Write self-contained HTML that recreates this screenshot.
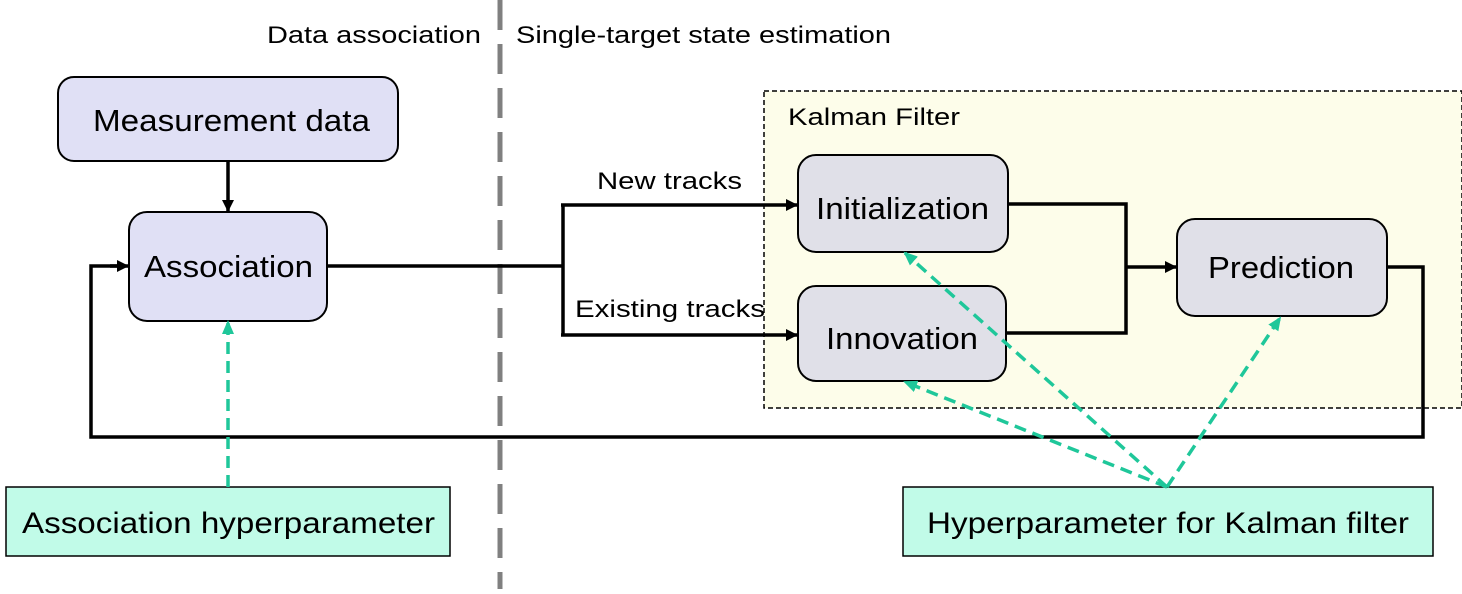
<!DOCTYPE html>
<html><head><style>
body{margin:0;width:1462px;height:589px;background:#fff;overflow:hidden;font-family:"Liberation Sans",sans-serif;}
</style></head><body>
<svg width="1462" height="589" viewBox="0 0 1462 589" xmlns="http://www.w3.org/2000/svg" font-family="Liberation Sans, sans-serif">
<defs>
<marker id="a" markerWidth="12" markerHeight="12" refX="11" refY="6" orient="auto" markerUnits="userSpaceOnUse"><path d="M0,0 L12,6 L0,12 z" fill="#000"/></marker>
<marker id="g" markerWidth="14" markerHeight="12" refX="12" refY="6" orient="auto" markerUnits="userSpaceOnUse"><path d="M0,0 L14,6 L0,12 z" fill="#1fc79a"/></marker>
</defs>
<rect x="764" y="91" width="698" height="317" fill="#fdfdea" stroke="#000" stroke-width="1.5" stroke-dasharray="5,3"/>
<text x="788" y="125" font-size="24" textLength="172" lengthAdjust="spacingAndGlyphs">Kalman Filter</text>
<line x1="500" y1="0" x2="500" y2="589" stroke="#808080" stroke-width="5" stroke-dasharray="30,14"/>
<text x="267" y="43" font-size="24" textLength="214" lengthAdjust="spacingAndGlyphs">Data association</text>
<text x="516" y="43" font-size="24" textLength="375" lengthAdjust="spacingAndGlyphs">Single-target state estimation</text>
<g fill="none" stroke="#000" stroke-width="3.5">
<line x1="228" y1="161" x2="228" y2="211" marker-end="url(#a)"/>
<polyline points="327,266 563,266"/>
<polyline points="563,205 563,335"/>
<line x1="561" y1="205" x2="797" y2="205" marker-end="url(#a)"/>
<line x1="561" y1="335" x2="797" y2="335" marker-end="url(#a)"/>
<polyline points="1008,204 1126,204 1126,333 1006,333"/>
<line x1="1126" y1="267" x2="1176" y2="267" marker-end="url(#a)"/>
<polyline points="1387,267 1423,267 1423,437 91,437 91,266 120,266"/>
<line x1="110" y1="266" x2="128" y2="266" marker-end="url(#a)"/>
</g>
<rect x="58" y="77" width="340" height="84" rx="16" fill="#e0e0f5" stroke="#000" stroke-width="2"/>
<text x="93" y="131" font-size="31" textLength="277" lengthAdjust="spacingAndGlyphs">Measurement data</text>
<rect x="129" y="212" width="198" height="109" rx="18" fill="#e0e0f5" stroke="#000" stroke-width="2"/>
<text x="144" y="277" font-size="31" textLength="169" lengthAdjust="spacingAndGlyphs">Association</text>
<rect x="798" y="155" width="210" height="97" rx="18" fill="#e0e0e8" stroke="#000" stroke-width="2"/>
<text x="816" y="219" font-size="31" textLength="173" lengthAdjust="spacingAndGlyphs">Initialization</text>
<rect x="798" y="286" width="208" height="95" rx="18" fill="#e0e0e8" stroke="#000" stroke-width="2"/>
<text x="826" y="349" font-size="31" textLength="152" lengthAdjust="spacingAndGlyphs">Innovation</text>
<rect x="1177" y="219" width="210" height="97" rx="18" fill="#e0e0e8" stroke="#000" stroke-width="2"/>
<text x="1208" y="278" font-size="31" textLength="146" lengthAdjust="spacingAndGlyphs">Prediction</text>
<text x="597" y="189" font-size="24" textLength="145" lengthAdjust="spacingAndGlyphs">New tracks</text>
<text x="575" y="317" font-size="24" textLength="190" lengthAdjust="spacingAndGlyphs">Existing tracks</text>
<rect x="6" y="487" width="444" height="69" fill="#c1fbe8" stroke="#000" stroke-width="1.5"/>
<text x="22" y="533" font-size="30" textLength="413" lengthAdjust="spacingAndGlyphs">Association hyperparameter</text>
<rect x="903" y="487" width="530" height="69" fill="#c1fbe8" stroke="#000" stroke-width="1.5"/>
<text x="927" y="533" font-size="30" textLength="482" lengthAdjust="spacingAndGlyphs">Hyperparameter for Kalman filter</text>
<g stroke="#1fc79a" stroke-width="3.5" stroke-dasharray="12,7" fill="none">
<line x1="228" y1="487" x2="228" y2="322" marker-end="url(#g)"/>
<line x1="1167" y1="487" x2="905" y2="253" marker-end="url(#g)"/>
<line x1="1167" y1="487" x2="905" y2="382" marker-end="url(#g)"/>
<line x1="1167" y1="487" x2="1280" y2="318" marker-end="url(#g)"/>
</g>
</svg>
</body></html>
